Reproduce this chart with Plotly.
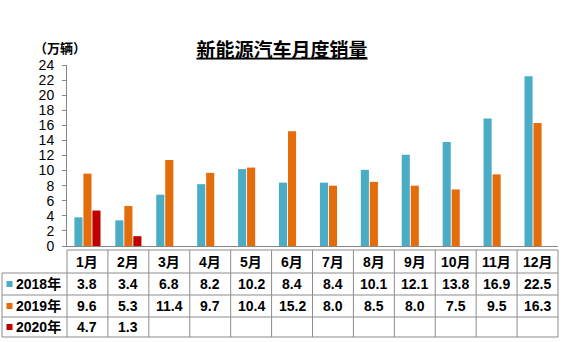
import plotly.graph_objects as go

# Monthly sales of new-energy vehicles (10k units)
months = ["1月", "2月", "3月", "4月", "5月", "6月", "7月", "8月", "9月", "10月", "11月", "12月"]
sales_2018 = [3.8, 3.4, 6.8, 8.2, 10.2, 8.4, 8.4, 10.1, 12.1, 13.8, 16.9, 22.5]
sales_2019 = [9.6, 5.3, 11.4, 9.7, 10.4, 15.2, 8.0, 8.5, 8.0, 7.5, 9.5, 16.3]
sales_2020 = [4.7, 1.3, None, None, None, None, None, None, None, None, None, None]
series_names = ["2018年", "2019年", "2020年"]
y_ticks = [0, 2, 4, 6, 8, 10, 12, 14, 16, 18, 20, 22, 24]

colors = ["#4BACC6", "#E46C0A", "#C00000"]
series = [sales_2018, sales_2019, sales_2020]

W, H = 564, 342
ML, MR, MT, MB = 67, 6, 65, 96
PW, PH = W - ML - MR, H - MT - MB

def px_x(px):
    return (px - ML) / PW

def px_y(py):
    return (H - MB - py) / PH

NUM_FONT = "Liberation Sans, Arial, Noto Sans CJK SC"
CJK_FONT = "Noto Sans CJK SC, sans-serif"

fig = go.Figure()
for name, vals, col in zip(series_names, series, colors):
    fig.add_trace(go.Bar(x=months, y=vals, name=name, marker_color=col,
                         marker_line_width=0))

# Data table beneath the plot
grid = "#8C8C8C"
shapes = []
row_lines = [273, 295, 317, 337]
table_top = 250
shapes.append(dict(type="line", xref="paper", yref="paper",
                   x0=0, x1=1, y0=px_y(table_top), y1=px_y(table_top),
                   line=dict(color=grid, width=1)))
for ry in row_lines:
    shapes.append(dict(type="line", xref="paper", yref="paper",
                       x0=px_x(2), x1=1, y0=px_y(ry), y1=px_y(ry),
                       line=dict(color=grid, width=1)))
shapes.append(dict(type="line", xref="paper", yref="paper",
                   x0=px_x(2), x1=px_x(2), y0=px_y(row_lines[0]), y1=px_y(row_lines[-1]),
                   line=dict(color=grid, width=1)))
for k in range(len(months) + 1):
    shapes.append(dict(type="line", xref="paper", yref="paper",
                       x0=k / len(months), x1=k / len(months),
                       y0=px_y(table_top), y1=px_y(row_lines[-1]),
                       line=dict(color=grid, width=1)))

annotations = []
header_y = (table_top + row_lines[0]) / 2
for m in months:
    annotations.append(dict(x=m, y=px_y(header_y), xref="x", yref="paper",
                            text="<b>%s</b>" % m, showarrow=False,
                            font=dict(family=NUM_FONT, size=14, color="black"),
                            xanchor="center", yanchor="middle"))

row_centers = [(row_lines[i] + row_lines[i + 1]) / 2 for i in range(3)]
for name, vals, col, rc in zip(series_names, series, colors, row_centers):
    shapes.append(dict(type="rect", xref="paper", yref="paper",
                       x0=px_x(6.5), x1=px_x(12.5), y0=px_y(rc - 3), y1=px_y(rc + 3),
                       fillcolor=col, line=dict(width=0)))
    annotations.append(dict(x=px_x(13.5), y=px_y(rc), xref="paper", yref="paper",
                            text="<b>%s</b>" % name, showarrow=False,
                            font=dict(family=NUM_FONT, size=14, color="black"),
                            xanchor="left", yanchor="middle"))
    for m, v in zip(months, vals):
        if v is None:
            continue
        annotations.append(dict(x=m, y=px_y(rc), xref="x", yref="paper",
                                text="<b>%.1f</b>" % v, showarrow=False,
                                font=dict(family=NUM_FONT, size=14, color="black"),
                                xanchor="center", yanchor="middle"))

# Unit label above the value axis
annotations.append(dict(x=px_x(60), y=px_y(48), xref="paper", yref="paper",
                        text="<b>（万辆）</b>", showarrow=False,
                        font=dict(family=CJK_FONT, size=13, color="black"),
                        xanchor="center", yanchor="middle"))

fig.update_layout(
    width=W, height=H,
    margin=dict(l=ML, r=MR, t=MT, b=MB, pad=0),
    paper_bgcolor="white", plot_bgcolor="white",
    showlegend=False,
    barmode="group", bargap=0.34, bargroupgap=0.1,
    title=dict(text="<b><u>新能源汽车月度销量</u></b>", x=282 / W,
               xanchor="center", y=1 - 50 / H, yanchor="middle",
               font=dict(family=CJK_FONT, size=19, color="black")),
    xaxis=dict(range=[-0.5, 11.5], showticklabels=False, ticks="",
               showline=True, linecolor="#868686", linewidth=1,
               showgrid=False, zeroline=False),
    yaxis=dict(range=[0, 24], tickvals=y_ticks, ticks="outside", ticklen=4,
               tickcolor="#868686", showline=True, linecolor="#868686", linewidth=1,
               showgrid=False, zeroline=False,
               tickfont=dict(family=NUM_FONT, size=14, color="black"),
               tickprefix="<b>", ticksuffix="</b>", ticklabelstandoff=5),
    shapes=shapes, annotations=annotations,
)

fig.write_html("out.html")
